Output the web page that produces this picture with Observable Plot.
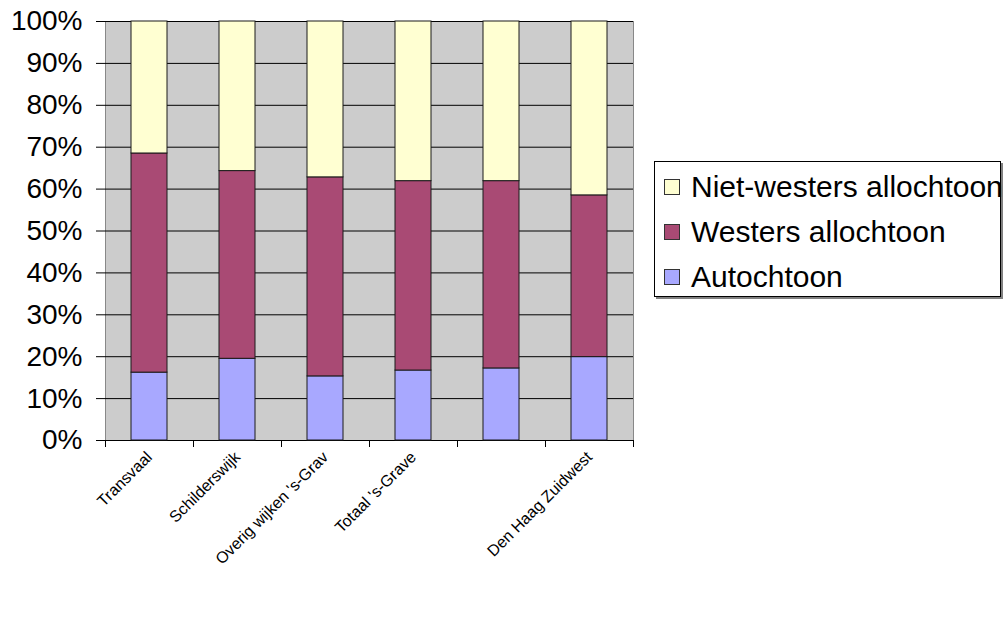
<!DOCTYPE html>
<html><head><meta charset="utf-8">
<script src="https://cdn.jsdelivr.net/npm/d3@7"></script>
<script src="https://cdn.jsdelivr.net/npm/@observablehq/plot@0.6"></script>
<style>
body{margin:0;background:#fff;font-family:Arial,"Liberation Sans",sans-serif;}
#wrap{position:relative;width:1008px;height:640px;}
#legend{position:absolute;left:654px;top:161px;width:347px;height:136px;border:1px solid #000;box-shadow:2px 2px 0 #808080;box-sizing:border-box;background:#fff;}
.item{position:absolute;left:9px;height:30px;display:flex;align-items:center;font-size:30px;line-height:1;color:#000;white-space:nowrap;}
.sw{width:14px;height:14px;border:1px solid #333;margin-right:11px;flex:none;}
</style></head><body><div id="wrap"></div>
<script>
const categories = ["Transvaal", "Schilderswijk", "Overig wijken 's-Grav", "Totaal 's-Grave", "", "Den Haag Zuidwest"];
const seriesNames = ["Autochtoon", "Westers allochtoon", "Niet-westers allochtoon"];
const colors = ["#a8a8ff", "#a94a74", "#ffffd2"];
const autochtoon = [16.2, 19.5, 15.3, 16.7, 17.2, 19.9];
const westers = [52.3, 44.8, 47.5, 45.2, 44.7, 38.6];
const nietWesters = [31.5, 35.7, 37.2, 38.1, 38.1, 41.5];
const yTicks = [0, 0.1, 0.2, 0.3, 0.4, 0.5, 0.6, 0.7, 0.8, 0.9, 1];

const seriesValues = [autochtoon, westers, nietWesters];
const table = [];
categories.forEach((c, i) => seriesNames.forEach((s, j) => table.push({category: c, series: s, value: seriesValues[j][i] / 100})));

const chart = Plot.plot({
  width: 1008, height: 640,
  marginLeft: 105, marginRight: 375, marginTop: 21, marginBottom: 200,
  style: {fontFamily: "Arial, 'Liberation Sans', sans-serif", background: "white", color: "#000"},
  x: {domain: categories, paddingInner: 0.59, paddingOuter: 0.295, label: null, axis: null},
  y: {domain: [0, 1], label: null, axis: null},
  color: {domain: seriesNames, range: colors},
  marks: [
    Plot.frame({fill: "#cccccc", stroke: "#888888"}),
    Plot.ruleY(yTicks, {stroke: "#000", strokeWidth: 1}),
    Plot.barY(table, {x: "category", y: "value", fill: "series", stroke: "#1a1a1a", strokeWidth: 1, order: seriesNames}),
    Plot.ruleX(categories, {x: d => d, y1: 0, y2: 0, dx: -44, insetBottom: -7, stroke: "#000"}),
    Plot.ruleX(categories.slice(-1), {x: d => d, y1: 0, y2: 0, dx: 44, insetBottom: -7, stroke: "#000"}),
    Plot.axisY({ticks: yTicks, tickFormat: d3.format(".0%"), tickSize: 9, tickPadding: 14, fontSize: 28, stroke: "#000"}),
    Plot.axisX({tickSize: 0, tickRotate: -45, fontSize: 16, tickPadding: 14})
  ]
});
const wrap = document.getElementById("wrap");
wrap.appendChild(chart);

const legend = document.createElement("div");
legend.id = "legend";
const order = [2, 1, 0];
order.forEach((j, k) => {
  const it = document.createElement("div");
  it.className = "item";
  it.style.top = (10 + k * 45) + "px";
  const sw = document.createElement("span");
  sw.className = "sw";
  sw.style.background = colors[j];
  it.appendChild(sw);
  it.appendChild(document.createTextNode(seriesNames[j]));
  legend.appendChild(it);
});
wrap.appendChild(legend);
</script>
</body></html>
